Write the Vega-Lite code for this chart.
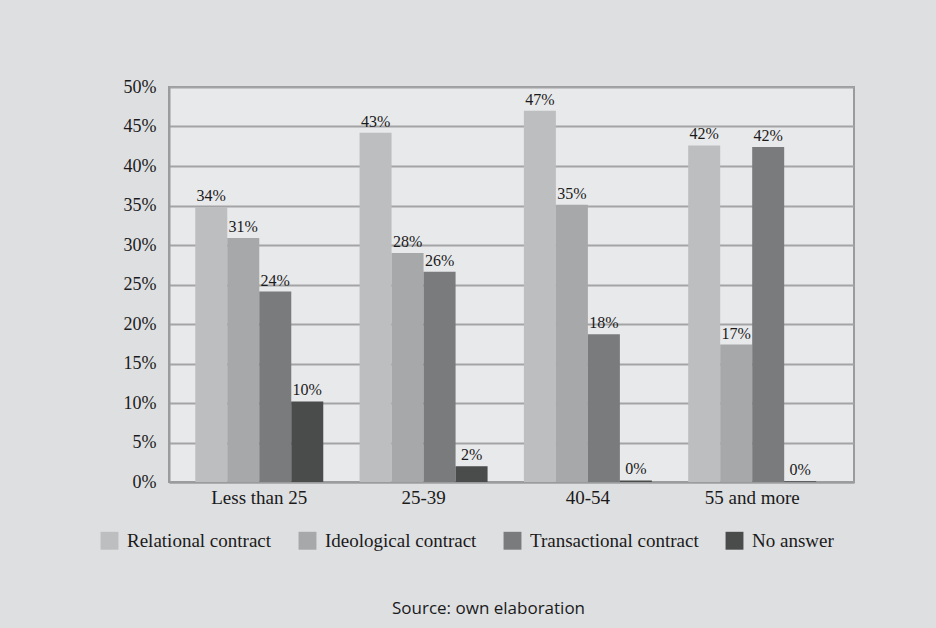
{
  "$schema": "https://vega.github.io/schema/vega-lite/v6.json",
  "width": 685,
  "height": 395,
  "autosize": {"type": "none"},
  "padding": {"left": 169, "top": 87, "right": 82, "bottom": 146},
  "background": "#dedfe1",
  "title": {
    "text": "Source: own elaboration",
    "orient": "bottom",
    "anchor": "middle",
    "dx": -23,
    "offset": 50,
    "font": "Open Sans",
    "fontSize": 17,
    "fontWeight": "normal",
    "color": "#1a1a1a"
  },
  "data": {
    "values": [
      {"age": "Less than 25", "type": "Relational contract", "value": 0.348, "label": "34%"},
      {"age": "Less than 25", "type": "Ideological contract", "value": 0.309, "label": "31%"},
      {"age": "Less than 25", "type": "Transactional contract", "value": 0.241, "label": "24%"},
      {"age": "Less than 25", "type": "No answer", "value": 0.102, "label": "10%"},
      {"age": "25-39", "type": "Relational contract", "value": 0.442, "label": "43%"},
      {"age": "25-39", "type": "Ideological contract", "value": 0.290, "label": "28%"},
      {"age": "25-39", "type": "Transactional contract", "value": 0.266, "label": "26%"},
      {"age": "25-39", "type": "No answer", "value": 0.020, "label": "2%"},
      {"age": "40-54", "type": "Relational contract", "value": 0.470, "label": "47%"},
      {"age": "40-54", "type": "Ideological contract", "value": 0.351, "label": "35%"},
      {"age": "40-54", "type": "Transactional contract", "value": 0.187, "label": "18%"},
      {"age": "40-54", "type": "No answer", "value": 0.002, "label": "0%"},
      {"age": "55 and more", "type": "Relational contract", "value": 0.426, "label": "42%"},
      {"age": "55 and more", "type": "Ideological contract", "value": 0.174, "label": "17%"},
      {"age": "55 and more", "type": "Transactional contract", "value": 0.424, "label": "42%"},
      {"age": "55 and more", "type": "No answer", "value": 0.001, "label": "0%"}
    ]
  },
  "encoding": {
    "x": {
      "field": "age",
      "type": "nominal",
      "sort": ["Less than 25", "25-39", "40-54", "55 and more"],
      "scale": {"paddingInner": 0.221, "paddingOuter": 0.195, "align": 0.41},
      "axis": {
        "title": null,
        "labelAngle": 0,
        "labelFont": "Liberation Serif",
        "labelFontSize": 19,
        "labelColor": "#1a1a1a",
        "labelPadding": 6,
        "ticks": false,
        "domain": true,
        "domainColor": "#9a9b9d",
        "domainWidth": 2
      }
    },
    "xOffset": {
      "field": "type",
      "type": "nominal",
      "sort": ["Relational contract", "Ideological contract", "Transactional contract", "No answer"]
    },
    "y": {
      "field": "value",
      "type": "quantitative",
      "scale": {"domain": [0, 0.5], "nice": false},
      "axis": {
        "title": null,
        "values": [0, 0.05, 0.1, 0.15, 0.2, 0.25, 0.3, 0.35, 0.4, 0.45, 0.5],
        "format": ".0%",
        "labelFont": "Liberation Serif",
        "labelFontSize": 18,
        "labelColor": "#1a1a1a",
        "labelPadding": 13,
        "ticks": false,
        "domain": true,
        "domainColor": "#9a9b9d",
        "domainWidth": 2,
        "grid": true,
        "gridColor": "#a3a4a6",
        "gridWidth": 2
      }
    }
  },
  "layer": [
    {
      "mark": {"type": "bar"},
      "encoding": {
        "color": {
          "field": "type",
          "type": "nominal",
          "sort": ["Relational contract", "Ideological contract", "Transactional contract", "No answer"],
          "scale": {
            "domain": ["Relational contract", "Ideological contract", "Transactional contract", "No answer"],
            "range": ["#bdbec0", "#a7a8aa", "#7a7b7d", "#4a4b4b"]
          },
          "legend": {
            "title": null,
            "orient": "none",
            "direction": "horizontal",
            "legendX": -69,
            "legendY": 444,
            "symbolType": "square",
            "symbolSize": 320,
            "symbolStrokeWidth": 0,
            "symbolOpacity": 1,
            "labelFont": "Liberation Serif",
            "labelFontSize": 19,
            "labelColor": "#1a1a1a",
            "labelLimit": 400,
            "columnPadding": 26,
            "labelOffset": 8
          }
        }
      }
    },
    {
      "mark": {
        "type": "text",
        "baseline": "bottom",
        "dy": -3,
        "font": "Liberation Serif",
        "fontSize": 16,
        "color": "#1a1a1a"
      },
      "encoding": {
        "text": {"field": "label", "type": "nominal"}
      }
    }
  ],
  "config": {
    "view": {"fill": "#e8e9eb", "stroke": "#9a9b9d", "strokeWidth": 2}
  }
}
